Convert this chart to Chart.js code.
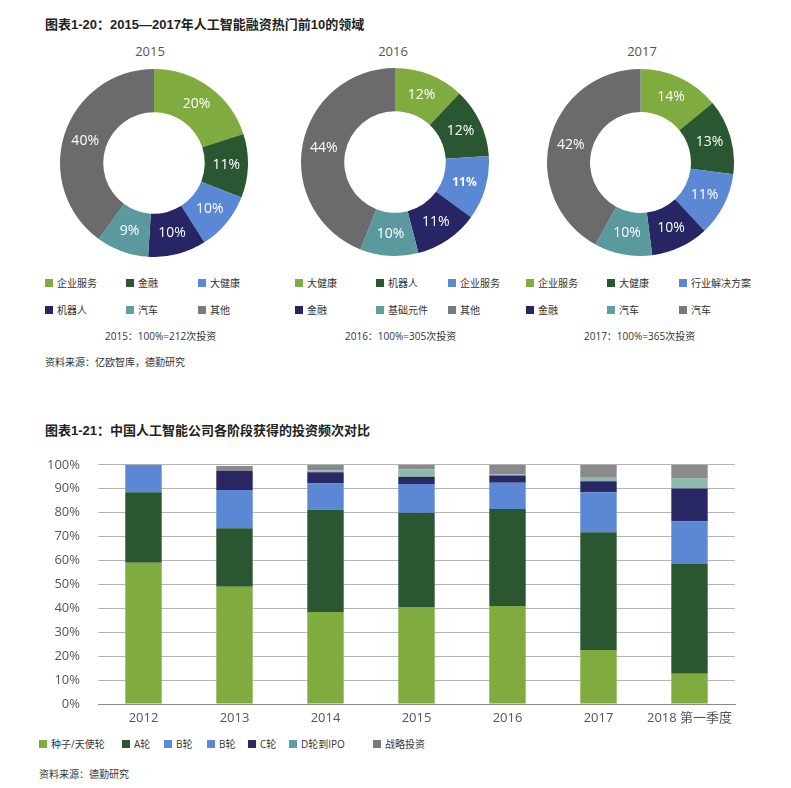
<!DOCTYPE html>
<html>
<head>
<meta charset="utf-8">
<script src="https://cdn.jsdelivr.net/npm/chart.js@4/dist/chart.umd.min.js"></script>
<style>
  body { margin: 0; background: #fff; }
  #page { position: relative; width: 791px; height: 788px; overflow: hidden;
    font-family: "Open Sans", "Noto Sans CJK SC", sans-serif; color: #333; }
  .abs { position: absolute; white-space: nowrap; }
  .title { font-family: "Liberation Sans", "Noto Sans CJK SC", sans-serif; font-weight: bold; font-size: 13px; color: #222; }
  .year { font-size: 13px; color: #555; transform: translateX(-50%); }
  .small { font-size: 10px; color: #333; }
  .leg { font-size: 10px; color: #333; display: flex; align-items: center; }
  .leg i { display: inline-block; width: 8px; height: 8px; margin-right: 4px; }
</style>
</head>
<body>
<div id="page">
  <div class="abs title" style="left:45px; top:14px;">图表1-20：2015—2017年人工智能融资热门前10的领域</div>
  <div class="abs title" style="left:45px; top:420px;">图表1-21：中国人工智能公司各阶段获得的投资频次对比</div>
  <div class="abs small" style="left:45px; top:354px;">资料来源：亿欧智库，德勤研究</div>
  <div class="abs small" style="left:39px; top:766px;">资料来源：德勤研究</div>
  <canvas id="d0" class="abs" style="left:60px; top:69px;"></canvas>
  <canvas id="d1" class="abs" style="left:301px; top:68px;"></canvas>
  <canvas id="d2" class="abs" style="left:547px; top:69px;"></canvas>
  <canvas id="bar" class="abs" style="left:0px; top:439px;"></canvas>
</div>
<script>
// donut data
const donutYears = ['2015', '2016', '2017'];
const donutTotals = ['2015：100%=212次投资', '2016：100%=305次投资', '2017：100%=365次投资'];
const labels2015 = ['企业服务', '金融', '大健康', '机器人', '汽车', '其他'];
const values2015 = [20, 11, 10, 10, 9, 40];
const labels2016 = ['大健康', '机器人', '企业服务', '金融', '基础元件', '其他'];
const values2016 = [12, 12, 11, 11, 10, 44];
const labels2017 = ['企业服务', '大健康', '行业解决方案', '金融', '汽车', '汽车'];
const values2017 = [14, 13, 11, 10, 10, 42];

// bar data
const barYears = ['2012', '2013', '2014', '2015', '2016', '2017', '2018 第一季度'];
const stageNames = ['种子/天使轮', 'A轮', 'B轮', 'B轮', 'C轮', 'D轮到IPO', '战略投资'];
const seed     = [59, 49, 38.5, 40.5, 41, 22.6, 12.6];
const roundA   = [29.5, 24.5, 42.7, 39.5, 40.5, 49.2, 46.1];
const roundB   = [11.5, 16, 11, 12, 11, 16.7, 17.7];
const roundB2  = [0, 0, 0, 0, 0, 0, 0];
const roundC   = [0, 8, 4.7, 3, 3, 4.6, 13.7];
const roundD   = [0, 0, 0.8, 3, 0.5, 1.5, 4.2];
const strategy = [0, 2, 2.3, 2, 4, 5.4, 5.7];
const yTicks = ['0%', '10%', '20%', '30%', '40%', '50%', '60%', '70%', '80%', '90%', '100%'];

const donutColors = ['#7fab3f', '#2a5632', '#5b88d4', '#272563', '#5a9a9f', '#6b6b6e'];
const legendColors = ['#7fab3f', '#2a5632', '#5b88d4', '#272563', '#5e9f9f', '#7a7a7c'];
const barColors = ['#7fab3f', '#2a5632', '#5b88d4', '#5b88d4', '#2a2864', '#8fb8ac', '#8a8a8c'];
const barLegendColors = ['#7fab3f', '#2a5632', '#5b88d4', '#5b88d4', '#2a2864', '#5e9f9f', '#7a7a7c'];

const page = document.getElementById('page');
function addDiv(cls, html, left, top) {
  const d = document.createElement('div');
  d.className = 'abs ' + cls;
  d.innerHTML = html;
  d.style.left = left + 'px';
  d.style.top = top + 'px';
  page.appendChild(d);
}

// percent labels inside arcs
const arcLabels = {
  id: 'arcLabels',
  afterDatasetsDraw(chart) {
    const ctx = chart.ctx;
    const meta = chart.getDatasetMeta(0);
    const data = chart.data.datasets[0].data;
    ctx.save();
    ctx.fillStyle = '#fff';
    ctx.textAlign = 'center';
    ctx.textBaseline = 'middle';
    meta.data.forEach((arc, i) => {
      const p = arc.tooltipPosition();
      const bold = chart.options.boldIndex === i;
      ctx.font = (bold ? 'bold 12px' : '14px') + ' "Open Sans", sans-serif';
      ctx.fillText(data[i] + '%', p.x, p.y);
    });
    ctx.restore();
  }
};

const donutLabels = [labels2015, labels2016, labels2017];
const donutValues = [values2015, values2016, values2017];
const donutSize = [188, 188, 187];
const yearX = [150, 393, 642];
const legendX = [45, 295, 526];
const totalX = [105, 345, 584];
const colOff = [0, 81, 153];

donutYears.forEach((yr, k) => {
  addDiv('year', yr, yearX[k], 42);
  donutLabels[k].forEach((lab, i) => {
    const col = i % 3, row = Math.floor(i / 3);
    addDiv('leg', '<i style="background:' + legendColors[i] + '"></i>' + lab,
      legendX[k] + colOff[col], 275 + row * 27);
  });
  addDiv('small', donutTotals[k], totalX[k], 328);

  const cv = document.getElementById('d' + k);
  cv.width = donutSize[k];
  cv.height = donutSize[k];
  new Chart(cv, {
    type: 'doughnut',
    data: {
      labels: donutLabels[k],
      datasets: [{
        data: donutValues[k],
        backgroundColor: donutColors,
        borderWidth: 0
      }]
    },
    options: {
      responsive: false,
      animation: false,
      cutout: '54%',
      boldIndex: k === 1 ? 2 : -1,
      plugins: { legend: { display: false }, tooltip: { enabled: false } }
    },
    plugins: [arcLabels]
  });
});

// stacked bar chart
const stageData = [seed, roundA, roundB, roundB2, roundC, roundD, strategy];
const barLegendX = [39, 122, 164, 207, 248, 289, 373];
stageNames.forEach((n, i) => {
  addDiv('leg', '<i style="background:' + barLegendColors[i] + '"></i>' + n, barLegendX[i], 736);
});

const barCv = document.getElementById('bar');
barCv.width = 760;
barCv.height = 296;
new Chart(barCv, {
  type: 'bar',
  data: {
    labels: barYears,
    datasets: stageNames.map((n, i) => ({
      label: n,
      data: stageData[i],
      backgroundColor: barColors[i],
      borderWidth: 0,
      barPercentage: 0.4,
      categoryPercentage: 1
    }))
  },
  options: {
    responsive: false,
    animation: false,
    layout: { padding: { top: 6, right: 25, left: 0, bottom: 0 } },
    plugins: { legend: { display: false }, tooltip: { enabled: false } },
    scales: {
      x: {
        stacked: true,
        grid: { display: false, drawTicks: false },
        border: { color: '#8a8a8a', width: 1 },
        ticks: { color: '#555', padding: 6, maxRotation: 0, minRotation: 0, autoSkip: false,
          font: { size: 13, family: '"Open Sans", "Noto Sans CJK SC", sans-serif' } },
        afterFit(s) { s.height = 31; }
      },
      y: {
        stacked: true,
        min: 0,
        max: 100,
        grid: { color: '#b4b4b4', lineWidth: 1, drawTicks: false },
        border: { display: false },
        ticks: {
          stepSize: 10,
          color: '#555',
          padding: 18,
          font: { size: 13, family: '"Open Sans", sans-serif' },
          callback: (v) => yTicks[Math.round(v / 10)]
        },
        afterFit(s) { s.width = 98; }
      }
    }
  }
});
</script>
</body>
</html>
